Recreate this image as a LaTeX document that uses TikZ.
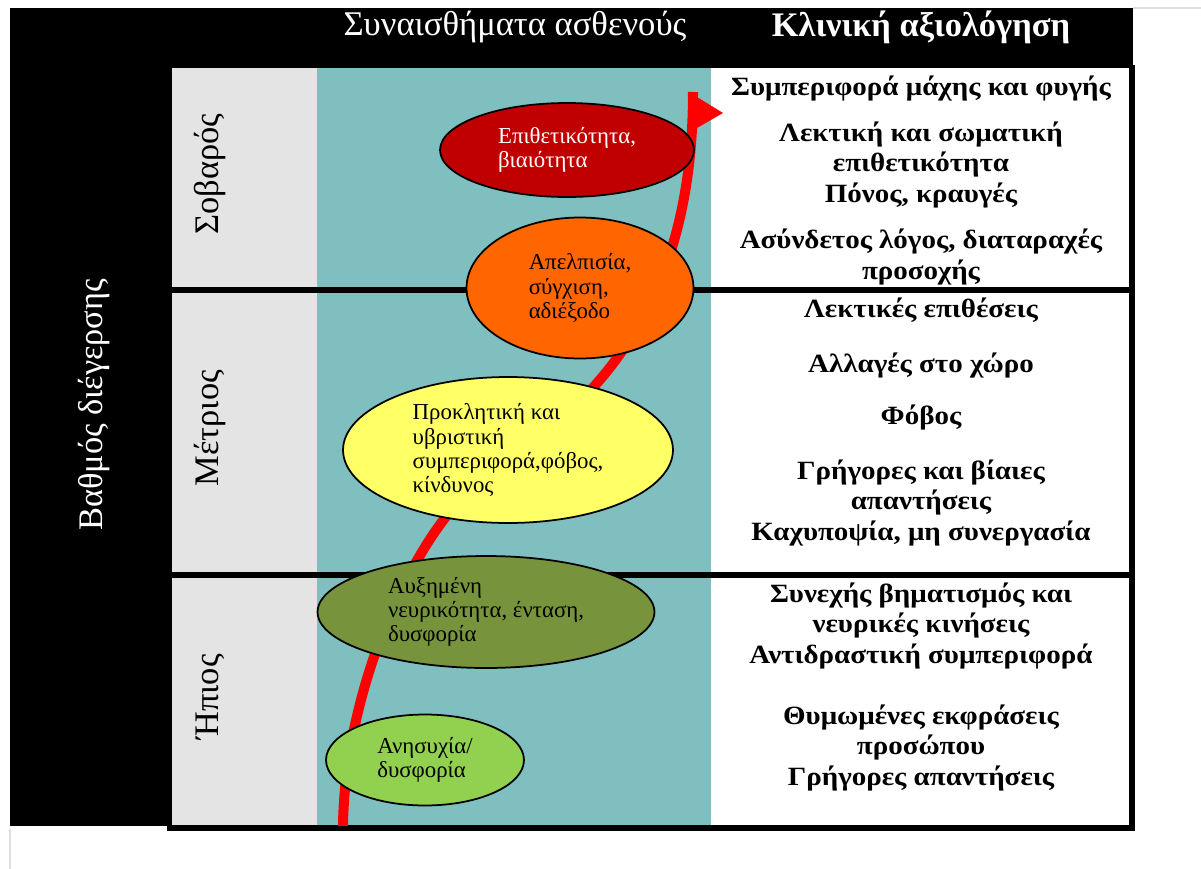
\documentclass[tikz,border=0pt]{standalone}
\usepackage{fontspec}
\setmainfont{Liberation Serif}
\newfontfamily\widefont[FakeStretch=1.1]{Liberation Serif}
\usepackage{tikz}
\usetikzlibrary{positioning}
\usetikzlibrary{shapes.geometric}
\usetikzlibrary{%
  calc,%
  arrows%
}
\definecolor{greycol}{HTML}{E4E4E4}
\definecolor{tealcol}{HTML}{80BFBF}
\definecolor{darkred}{HTML}{C00000}
\definecolor{orangecol}{HTML}{FF6600}
\definecolor{yellowcol}{HTML}{FFFF66}
\definecolor{olivecol}{HTML}{77933C}
\definecolor{lightgreen}{HTML}{92D050}
\tikzset{
  blob/.style={ellipse, draw=black, line width=1pt, inner sep=0pt, align=left,
    font=\fontsize{13}{13.7}\selectfont},
  clin/.style={align=center, font=\widefont\bfseries\fontsize{15}{17.1}\selectfont},
  side/.style={rotate=90, font=\fontsize{19.6}{22}\selectfont},
  sep/.style={line width=3.4pt}
}

\begin{document}
\begin{tikzpicture}[x=0.02cm,y=-0.02cm]
\useasboundingbox (0,0) rectangle (1201,869);
\draw[gray!25, line width=0.6pt] (1133,8) -- (1201,8);
\draw[gray!25, line width=0.6pt] (10,829) -- (10,869);

\fill[black] (10,8) rectangle (1133,68);
\fill[black] (10,8) rectangle (172,826);
\fill[greycol] (172,68) rectangle (317,828);
\fill[tealcol] (317,68) rectangle (711,828);
\fill[white] (711,68) rectangle (1132,828);

\draw[sep] (172,290) -- (1132,290);
\draw[sep] (172,575) -- (1132,575);
\draw[sep] (167,828) -- (1135,828);
\draw[sep] (1132,65) -- (1132,831);

\node[text=white, font=\fontsize{19.7}{22}\selectfont] (h1) at (515,27) {Συναισθήματα ασθενούς};
\node[text=white, font=\bfseries\fontsize{19.6}{22}\selectfont] (h2) at (921,27) {Κλινική αξιολόγηση};

\node[side, text=white] (lvl) at (94,405) {Βαθμός διέγερσης};
\node[side] (sev) at (210,174) {Σοβαρός};
\node[side] (mod) at (210,428) {Μέτριος};
\node[side] (mild) at (210,697) {Ήπιος};

\coordinate (a0) at (343,826);
\coordinate (a1) at (480,482);
\coordinate (a2) at (693,92);
\draw[red, line width=5.7pt] (a0) .. controls (345,680) and (420,526) .. (a1)
  .. controls (585,410) and (693,320) .. (a2);
\fill[red] (a2) ++(4,5) -- ++(26,16) -- ++(-26,15) -- cycle;

\node[blob, fill=darkred, text=white, minimum width=5.08cm, minimum height=1.88cm] (e5) at (567,150) {Επιθετικότητα,\\βιαιότητα};
\node[blob, fill=orangecol, minimum width=4.54cm, minimum height=2.82cm] (e4) at (580,288) {Απελπισία,\\σύγχιση,\\αδιέξοδο};
\node[blob, fill=yellowcol, minimum width=6.6cm, minimum height=2.92cm] (e3) at (508,450) {Προκλητική και\\υβριστική\\συμπεριφορά,φόβος,\\κίνδυνος};
\node[blob, fill=olivecol, minimum width=6.74cm, minimum height=2.24cm] (e2) at (486,612) {Αυξημένη\\νευρικότητα, ένταση,\\δυσφορία};
\node[blob, fill=lightgreen, minimum width=3.96cm, minimum height=1.82cm] (e1) at (425,760) {Ανησυχία/\\δυσφορία};

\node[clin] (c1) at (921,89) {Συμπεριφορά μάχης και φυγής};
\node[clin] (c2) at (921,165) {Λεκτική και σωματική\\επιθετικότητα\\Πόνος, κραυγές};
\node[clin] (c3) at (921,257) {Ασύνδετος λόγος, διαταραχές\\προσοχής};
\node[clin] (c4) at (921,310) {Λεκτικές επιθέσεις};
\node[clin] (c5) at (921,366) {Αλλαγές στο χώρο};
\node[clin] (c6) at (921,418) {Φόβος};
\node[clin] (c7) at (921,503) {Γρήγορες και βίαιες\\απαντήσεις\\Καχυποψία, μη συνεργασία};
\node[clin] (c8) at (921,626) {Συνεχής βηματισμός και\\νευρικές κινήσεις\\Αντιδραστική συμπεριφορά};
\node[clin] (c9) at (921,748) {Θυμωμένες εκφράσεις\\προσώπου\\Γρήγορες απαντήσεις};
\end{tikzpicture}
\end{document}
